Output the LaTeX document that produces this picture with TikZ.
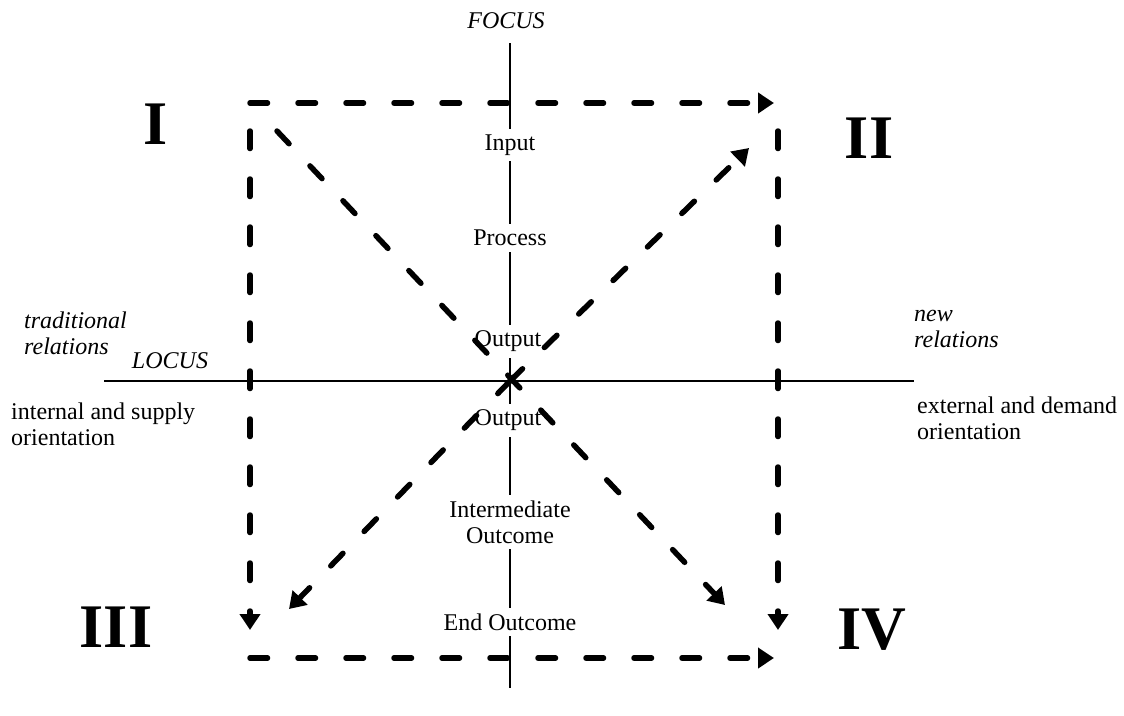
\documentclass[tikz,border=0pt]{standalone}
\usepackage{fontspec}
\setmainfont{Liberation Serif}
\usetikzlibrary{arrows.meta}
\begin{document}
\begin{tikzpicture}[x=1pt,y=-1pt,
  axis/.style={line width=1.3pt},
  lbl/.style={fill=white,inner xsep=2pt,inner ysep=6pt,font=\fontsize{24}{26}\selectfont,align=center},
  side/.style={inner sep=0pt,font=\fontsize{24}{26}\selectfont,align=left,anchor=west},
  sidei/.style={side,font=\fontsize{24}{26}\selectfont\itshape},
  roman/.style={inner sep=0pt,font=\fontsize{62}{62}\selectfont\bfseries},
  darr/.style={line width=5.5pt,line cap=round,dash pattern=on 17.5pt off 30.5pt,-{Triangle[length=16pt,width=20pt]}},
]
\useasboundingbox (0,0) rectangle (1124,715);
% axes
\coordinate (vt) at (510,43);
\coordinate (vb) at (510,688);
\coordinate (hl) at (104,381);
\coordinate (hr) at (914,381);
\coordinate (c) at (510,381);
\draw[axis] (vt) -- (vb);
\draw[axis] (hl) -- (hr);
% axis titles
\node[inner sep=0pt,font=\fontsize{24}{26}\selectfont\itshape] (focus) at (506,21) {FOCUS};
\node[inner sep=0pt,font=\fontsize{24}{26}\selectfont\itshape] (locus) at (170,361) {LOCUS};
\node[sidei] (trad) at (24,333) {traditional\\relations};
\node[side] (int) at (11,424) {internal and supply\\orientation};
\node[sidei] (new) at (914,329) {new\\relations};
\node[side] (ext) at (917,418) {external and demand\\orientation};
% roman numerals
\node[roman] (r1) at (156,124) {I};
\node[roman] (r2) at (869,138) {II};
\node[roman] (r3) at (116,627) {III};
\node[roman] (r4) at (872,630) {IV};
% center labels
\node[lbl] (input) at (510,145) {Input};
\node[lbl] (process) at (510,238) {Process};
\node[lbl] (out1) at (508,341) {Output};
\node[lbl] (out2) at (508,420) {Output};
\node[lbl] (inter) at (510,522) {Intermediate\\Outcome};
\node[lbl] (end) at (510,622) {End Outcome};
% dashed arrow endpoints
\coordinate (tl) at (250,103);
\coordinate (tr) at (774,103);
\coordinate (bl) at (250,658);
\coordinate (br) at (774,658);
\coordinate (ls) at (250,131);
\coordinate (le) at (250,630);
\coordinate (rs) at (778,131);
\coordinate (re) at (778,630);
\coordinate (d1s) at (277,131);
\coordinate (d1e) at (725,605);
\coordinate (d2e) at (749,148);
\coordinate (d3e) at (289,609);
\draw[darr] (tl) -- (tr);
\draw[darr] (bl) -- (br);
\draw[darr] (ls) -- (le);
\draw[darr] (rs) -- (re);
\draw[darr] (d1s) -- (d1e);
\draw[darr] (c) -- (d2e);
\draw[darr] (c) -- (d3e);
\end{tikzpicture}
\end{document}
